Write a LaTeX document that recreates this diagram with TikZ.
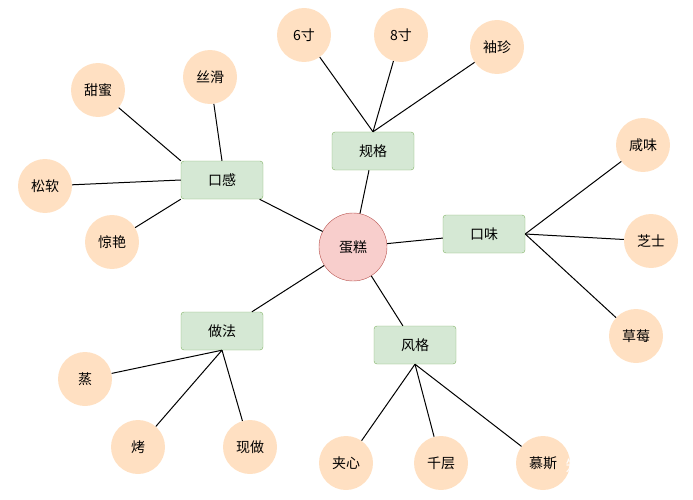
\documentclass[tikz,border=0pt]{standalone}
\usepackage{fontspec}
\newfontfamily\cjk{Noto Sans CJK SC}
\usetikzlibrary{positioning}

\definecolor{rootfill}{HTML}{F8CECC}
\definecolor{rootline}{HTML}{B85450}
\definecolor{boxfill}{HTML}{D5E8D4}
\definecolor{boxline}{HTML}{82B366}
\definecolor{leaffill}{HTML}{FFE0C2}

\tikzset{
  root/.style = {circle, draw = rootline, fill = rootfill, minimum size = 68pt,
    inner sep = 0pt, font = \cjk\fontsize{14}{16}\selectfont},
  branch/.style = {rectangle, rounded corners = 3pt, draw = boxline, fill = boxfill,
    minimum width = 82pt, minimum height = 38pt, font = \cjk\fontsize{14}{16}\selectfont},
  leaf/.style = {circle, fill = leaffill, minimum size = 54pt, inner sep = 0pt,
    font = \cjk\fontsize{14}{16}\selectfont},
  link/.style = {draw, line width = 1pt}
}

\begin{document}
\begin{tikzpicture}[x = 1pt, y = -1pt]
  \useasboundingbox (0, 0) rectangle (693, 500);

  \node[root] (cake) at (353, 247) {蛋糕};

  \node[branch] (size)    at (373, 151) {规格};
  \node[branch] (texture) at (222, 180) {口感};
  \node[branch] (taste)   at (484, 234) {口味};
  \node[branch] (method)  at (222, 331) {做法};
  \node[branch] (style)   at (415, 345) {风格};

  % leaves
  \node[leaf] (six)   at (304, 35)  {6寸};
  \node[leaf] (eight) at (401, 35)  {8寸};
  \node[leaf] (mini)  at (497, 47)  {袖珍};

  \node[leaf] (sweet) at (98, 90)   {甜蜜};
  \node[leaf] (silky) at (210, 77)  {丝滑};
  \node[leaf] (soft)  at (45, 186)  {松软};
  \node[leaf] (wow)   at (112, 242) {惊艳};

  \node[leaf] (salty)  at (643, 145) {咸味};
  \node[leaf] (cheese) at (651, 241) {芝士};
  \node[leaf] (berry)  at (636, 336) {草莓};

  \node[leaf] (steam) at (85, 379)  {蒸};
  \node[leaf] (bake)  at (138, 447) {烤};
  \node[leaf] (fresh) at (250, 447) {现做};

  \node[leaf] (filled) at (346, 463) {夹心};
  \node[leaf] (layers) at (441, 463) {千层};
  \node[leaf] (mousse) at (543, 463) {慕斯};

  % connectors
  \foreach \b in {size, texture, taste, method, style}
    \draw[link] (cake) -- (\b);

  \foreach \l in {six, eight, mini}
    \draw[link] (size.north) -- (\l);
  \draw[link] (texture.north west) -- (sweet);
  \draw[link] (texture.north) -- (silky);
  \draw[link] (texture.west) -- (soft);
  \draw[link] (texture.south west) -- (wow);
  \foreach \l in {salty, cheese, berry}
    \draw[link] (taste.east) -- (\l);
  \foreach \l in {steam, bake, fresh}
    \draw[link] (method.south) -- (\l);
  \foreach \l in {filled, layers, mousse}
    \draw[link] (style.south) -- (\l);

  \node[text = white, font = \cjk\fontsize{15}{17}\selectfont] (mark) at (617, 466) {知乎 @胖大海ff};
\end{tikzpicture}
\end{document}
